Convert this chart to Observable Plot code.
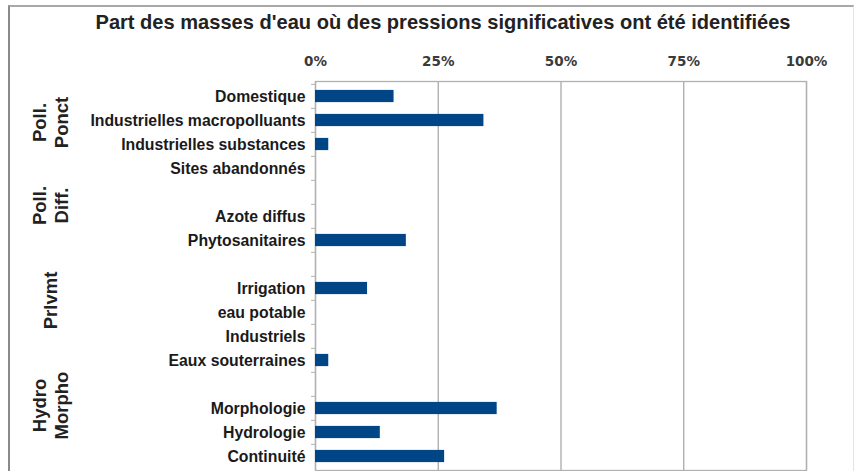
<!DOCTYPE html>
<html>
<head>
<meta charset="utf-8">
<script src="https://cdn.jsdelivr.net/npm/d3@7"></script>
<script src="https://cdn.jsdelivr.net/npm/@observablehq/plot@0.6"></script>
<style>
  html, body { margin: 0; padding: 0; background: #fff; }
  #wrap { position: relative; width: 855px; height: 471px; overflow: hidden; background: #fff; }
  #frame { position: absolute; left: 8px; top: 5px; width: 846px; height: 480px;
           border-left: 2px solid #8a8a8a; border-top: 2px solid #a8a8a8; border-right: 1px solid #e4e4e4;
           box-sizing: border-box; }
  #title { position: absolute; left: 443px; top: 9px; transform-origin: 0 0;
           font-family: "Liberation Sans", Arial, sans-serif;
           font-weight: bold; font-size: 21px; line-height: 26px; color: #222; white-space: nowrap; }
  #chart { position: absolute; left: 0; top: 0; }
</style>
</head>
<body>
<div id="wrap">
  <div id="frame"></div>
  <div id="chart"></div>
  <div id="title">Part des masses d'eau où des pressions significatives ont été identifiées</div>
</div>
<script>
// Categories (null = empty spacer row between groups)
const categories = [
  "Domestique", "Industrielles macropolluants", "Industrielles substances", "Sites abandonnés",
  null,
  "Azote diffus", "Phytosanitaires",
  null,
  "Irrigation", "eau potable", "Industriels", "Eaux souterraines",
  null,
  "Morphologie", "Hydrologie", "Continuité"
];
// Share of water bodies (%)
const values = [
  16, 34.3, 2.7, 0,
  null,
  0, 18.5,
  null,
  10.6, 0, 0, 2.7,
  null,
  37, 13.2, 26.3
];
const groupLabels = ["Poll.\nPonct", "Poll.\nDiff.", "Prlvmt", "Hydro\nMorpho"];
const groupAnchors = ["Industrielles macropolluants", "Azote diffus", "eau potable", "Morphologie"];
const groupShift = [2, -11, -12, -3];
const xTicks = [0, 25, 50, 75, 100];

let gap = 0;
const keys = categories.map(c => c === null ? "_gap" + (++gap) : c);
const rows = keys.map((k, i) => ({key: k, value: values[i]})).filter(d => d.value !== null);

const font = '"Liberation Sans", Arial, sans-serif';

const groupMarks = groupLabels.map((g, i) =>
  Plot.text([{label: g, key: groupAnchors[i]}], {
    text: "label", y: "key", frameAnchor: "left", dx: -266, dy: groupShift[i],
    rotate: -90, fontSize: 18.5, fontWeight: "bold", fill: "#222", lineHeight: 1.2,
    textAnchor: "middle", fontFamily: font
  })
);

const chart = Plot.plot({
  width: 855,
  height: 471,
  marginLeft: 315,
  marginRight: 49,
  marginTop: 81,
  marginBottom: 1,
  style: {fontFamily: font, background: "transparent", overflow: "visible"},
  x: {domain: [0, 100], ticks: xTicks, label: null},
  y: {domain: keys, padding: 0, label: null},
  marks: [
    Plot.gridX(xTicks, {stroke: "#aaaaaa", strokeOpacity: 1, strokeWidth: 1.3}),
    Plot.frame({stroke: "#b0b0b0", strokeWidth: 1.3}),
    Plot.ruleY(keys, {y: d => d, x1: -0.8, x2: 0, dy: -12.15, stroke: "#b3b3b3"}),
    Plot.barX(rows, {x: "value", y: "key", fill: "#004586", insetTop: 5.9, insetBottom: 5.9}),
    Plot.axisX({anchor: "top", ticks: xTicks, tickFormat: d => d + "%", tickSize: 0, tickPadding: 16,
                fontSize: 13.5, fontWeight: "bold", fill: "#3a3a3a", label: null,
                fontFamily: '"DejaVu Sans", sans-serif'}),
    Plot.axisY({tickSize: 0, tickPadding: 10, fontSize: 15.8, fontWeight: "bold", fill: "#1a1a1a", label: null,
                tickFormat: d => d.startsWith("_gap") ? "" : d}),
    ...groupMarks
  ]
});
document.getElementById("chart").appendChild(chart);

// fit the title to the reference's width (695px), centred at x = 443
const t = document.getElementById("title");
const w = t.getBoundingClientRect().width;
const s = 695 / w;
t.style.transform = `scaleX(${s}) translateX(${-w / 2}px)`;
</script>
</body>
</html>
